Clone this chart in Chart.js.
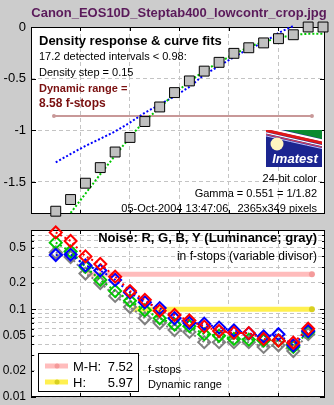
<!DOCTYPE html>
<html>
<head>
<meta charset="utf-8">
<script src="https://cdn.jsdelivr.net/npm/chart.js@4.4.1/dist/chart.umd.min.js"></script>
<style>
    body { margin: 0; background: #cccccc; }
    #wrap { position: relative; width: 334px; height: 405px; overflow: hidden; }
    #wrap canvas { position: absolute; left: 0; }
</style>
</head>
<body>
<div id="wrap">
    <canvas id="densityChart" width="334" height="222" style="top:0"></canvas>
    <canvas id="noiseChart" width="334" height="183" style="top:222px"></canvas>
</div>
<script>
// step positions along the wedge (density, 0.15 per step)
const stepX = [0.25, 0.40, 0.55, 0.70, 0.85, 1.00, 1.15, 1.30, 1.45, 1.60,
               1.75, 1.90, 2.05, 2.20, 2.35, 2.50, 2.65, 2.80, 2.95];

// measured density response (log10 pixel level)
const stepDensity = [-1.783, -1.670, -1.512, -1.361, -1.210, -1.069, -0.915, -0.774, -0.635, -0.522,
                     -0.427, -0.342, -0.255, -0.201, -0.154, -0.113, -0.075, 0.0, 0.0];
// second order fit (green) and first order fit (blue)
const fitCurve = [null, -1.80, -1.613, -1.425, -1.245, -1.066, -0.906, -0.783, -0.642, -0.528,
                  -0.425, -0.340, -0.264, -0.193, -0.142, -0.108, -0.075, -0.066, -0.066];
const linearFit = [-1.311, -1.229, -1.151, -1.082, -1.011, -0.925, -0.830, -0.752, -0.670, -0.580,
                   -0.462, -0.377, -0.292, -0.212, -0.151, -0.057, 0.01, null, null];
const rangeLevel = -0.861;
const rangeX = [0.232, 2.838];

// noise in f-stops per channel
const noiseR = [0.75, 0.60, 0.40, 0.328, 0.235, 0.161, 0.128, 0.096, 0.086, 0.0745,
                0.0634, 0.0565, 0.0538, 0.0534, 0.0459, 0.044, 0.0415, 0.060];
const noiseG = [0.574, 0.455, 0.304, 0.216, 0.161, 0.125, 0.0975, 0.079, 0.067, 0.0641,
                0.052, 0.0499, 0.0459, 0.0451, 0.044, 0.044, 0.0372, 0.0552];
const noiseB = [0.415, 0.42, 0.316, 0.277, 0.216, 0.155, 0.120, 0.103, 0.079, 0.0697,
                0.0683, 0.0618, 0.0573, 0.0531, 0.049, 0.052, 0.0388, 0.0565];
const noiseY = [0.443, 0.394, 0.255, 0.199, 0.142, 0.106, 0.079, 0.0697, 0.058, 0.0552,
                0.0422, 0.0422, 0.0422, 0.0422, 0.0372, 0.0388, 0.0334, 0.052];

// dynamic range thresholds
const levelMH = 0.25;
const levelMHX = [0.566, 2.838];
const levelH = 0.1;
const levelHX = [1.03, 2.838];
const rangeMH = 7.52;
const rangeH = 5.97;
const rangeTotal = 8.58;

const stepTicks = [0.5, 1, 1.5, 2, 2.5];
const densityTicks = [-1.5, -1, -0.5, 0];
const noiseTicks = [0.01, 0.02, 0.03, 0.04, 0.05, 0.06, 0.07, 0.08, 0.09,
                    0.1, 0.2, 0.3, 0.4, 0.5, 0.6, 0.7, 0.8];
const noiseLabels = [0.01, 0.02, 0.05, 0.1, 0.2, 0.5];
const noiseMajor = [0.01, 0.1];

const FONT = '"Liberation Sans", Arial, sans-serif';

function points(xs, ys) {
    return xs.map((x, i) => ({ x: x, y: ys[i] }))
             .filter(p => p.y !== null && p.y !== undefined);
}

function dottedLine(data, color) {
    return {
        data: data, showLine: true, borderColor: color, borderWidth: 2,
        borderDash: [2, 2], pointRadius: 0, pointHoverRadius: 0, clip: false
    };
}

function noiseSet(values, color) {
    return {
        data: points(stepX, values), showLine: true,
        borderColor: color, borderWidth: 2, borderDash: [2, 3],
        pointStyle: 'rectRot', pointRadius: 6, pointBorderWidth: 2,
        pointBorderColor: color, pointBackgroundColor: 'rgba(0,0,0,0)', clip: false
    };
}

function levelSet(xs, level, color, dotColor) {
    return {
        data: xs.map(x => ({ x: x, y: level })), showLine: true,
        borderColor: color, borderWidth: 5,
        pointRadius: [0, 3], pointBackgroundColor: dotColor, pointBorderWidth: 0
    };
}

// white plot box with black frame and inward tick marks
const framePlugin = {
    id: 'frame',
    beforeDraw(chart) {
        const a = chart.chartArea, ctx = chart.ctx;
        ctx.save();
        ctx.fillStyle = '#ffffff';
        ctx.fillRect(a.left, a.top, a.right - a.left, a.bottom - a.top);
        ctx.restore();
    },
    beforeDatasetsDraw(chart) {
        const a = chart.chartArea, ctx = chart.ctx, sx = chart.scales.x, sy = chart.scales.y;
        ctx.save();
        ctx.strokeStyle = '#000';
        ctx.lineWidth = 1;
        ctx.strokeRect(a.left + 0.5, a.top + 0.5, a.right - a.left - 1, a.bottom - a.top - 1);
        ctx.beginPath();
        sx.ticks.forEach(t => {
            const px = Math.round(sx.getPixelForValue(t.value)) + 0.5;
            ctx.moveTo(px, a.top); ctx.lineTo(px, a.top + 4);
            ctx.moveTo(px, a.bottom); ctx.lineTo(px, a.bottom - 4);
        });
        sy.ticks.forEach(t => {
            const py = Math.round(sy.getPixelForValue(t.value)) + 0.5;
            const len = t.minor ? 3 : 5;
            ctx.moveTo(a.left, py); ctx.lineTo(a.left + len, py);
            ctx.moveTo(a.right, py); ctx.lineTo(a.right - len, py);
        });
        ctx.stroke();
        ctx.restore();
    }
};

function drawLogo(ctx, x, y, w, h) {
    ctx.save();
    ctx.beginPath();
    ctx.rect(x, y, w, h);
    ctx.clip();
    ctx.fillStyle = '#1b2590';
    ctx.fillRect(x, y, w, h);
    // green corner
    ctx.fillStyle = '#0a8a30';
    ctx.beginPath();
    ctx.moveTo(x + 18, y);
    ctx.lineTo(x + w, y);
    ctx.lineTo(x + w, y + 9);
    ctx.quadraticCurveTo(x + 34, y + 4, x + 18, y);
    ctx.fill();
    // swoosh stripes
    const stripes = [[1, '#ffffff', 2.5], [3.5, '#e01818', 3], [6, '#ffffff', 1.2], [7.5, '#d04060', 1.2], [9, '#c0c0ff', 1]];
    stripes.forEach(s => {
        ctx.strokeStyle = s[1];
        ctx.lineWidth = s[2];
        ctx.beginPath();
        ctx.moveTo(x - 4, y - 4 + s[0]);
        ctx.quadraticCurveTo(x + 22, y + 2 + s[0], x + w + 2, y + 10 + s[0]);
        ctx.stroke();
    });
    // sun
    ctx.fillStyle = '#fff6c0';
    ctx.beginPath();
    ctx.arc(x + 11, y + 14, 6.5, 0, Math.PI * 2);
    ctx.fill();
    ctx.fillStyle = '#ffffff';
    ctx.font = 'italic bold 13px ' + FONT;
    ctx.textAlign = 'center';
    ctx.textBaseline = 'alphabetic';
    ctx.fillText('Imatest', x + w / 2 + 1, y + h - 4);
    ctx.restore();
}

const densityText = {
    id: 'densityText',
    afterDraw(chart) {
        const ctx = chart.ctx;
        ctx.save();
        ctx.textBaseline = 'alphabetic';
        ctx.textAlign = 'center';
        ctx.fillStyle = '#5a1a5a';
        ctx.font = 'bold 13px ' + FONT;
        ctx.fillText('Canon_EOS10D_Steptab400_lowcontr_crop.jpg', 179, 17);

        ctx.textAlign = 'left';
        ctx.fillStyle = '#000';
        ctx.font = 'bold 13px ' + FONT;
        ctx.fillText('Density response & curve fits', 39, 45);
        ctx.font = '11px ' + FONT;
        ctx.fillText('17.2 detected intervals < 0.98:', 39, 60);
        ctx.fillText('Density step = 0.15', 39, 76);
        ctx.fillStyle = '#7a1010';
        ctx.font = 'bold 11px ' + FONT;
        ctx.fillText('Dynamic range =', 39, 92);
        ctx.font = 'bold 12px ' + FONT;
        ctx.fillText(rangeTotal.toFixed(2) + ' f-stops', 39, 107);

        ctx.textAlign = 'right';
        ctx.fillStyle = '#000';
        ctx.font = '11px ' + FONT;
        ctx.fillText('24-bit color', 317, 182);
        ctx.fillText('Gamma = 0.551 = 1/1.82', 317, 197);
        ctx.fillText('05-Oct-2004 13:47:06   2365x349 pixels', 317, 212);
        ctx.restore();
        drawLogo(ctx, 266, 130, 56, 37);
    }
};

const noiseText = {
    id: 'noiseText',
    afterDraw(chart) {
        const ctx = chart.ctx;
        ctx.save();
        ctx.textBaseline = 'alphabetic';
        ctx.textAlign = 'right';
        ctx.fillStyle = '#000';
        ctx.font = 'bold 13px ' + FONT;
        ctx.fillText('Noise: R, G, B, Y (Luminance; gray)', 317, 20);
        ctx.font = '12px ' + FONT;
        ctx.fillText('in f-stops (variable divisor)', 317, 38);

        // legend box
        ctx.fillStyle = '#fff';
        ctx.fillRect(38, 131, 101, 39);
        ctx.strokeStyle = '#000';
        ctx.lineWidth = 1;
        ctx.strokeRect(38.5, 131.5, 100, 38);
        const rows = [[144, '#ffbcbc', '#f49a9a', 'M-H:', rangeMH], [160, '#fff050', '#d8d020', 'H:', rangeH]];
        rows.forEach(r => {
            ctx.strokeStyle = r[1];
            ctx.lineWidth = 5;
            ctx.beginPath();
            ctx.moveTo(45, r[0]);
            ctx.lineTo(68, r[0]);
            ctx.stroke();
            ctx.fillStyle = r[2];
            ctx.beginPath();
            ctx.arc(57, r[0], 2.5, 0, Math.PI * 2);
            ctx.fill();
            ctx.fillStyle = '#000';
            ctx.font = '13px ' + FONT;
            ctx.textAlign = 'left';
            ctx.fillText(r[3], 73, r[0] + 5);
            ctx.textAlign = 'right';
            ctx.fillText(r[4].toFixed(2), 133, r[0] + 5);
        });
        ctx.textAlign = 'left';
        ctx.font = '11px ' + FONT;
        ctx.fillText('f-stops', 148, 151);
        ctx.fillText('Dynamic range', 148, 166);
        ctx.restore();
    }
};

const gridStyle = { color: '#c4c4c4', drawTicks: false };
const borderStyle = { display: false, dash: [4, 3] };

function xScale() {
    return {
        type: 'linear', min: 0, max: 2.97,
        grid: gridStyle, border: borderStyle,
        ticks: { display: false },
        afterBuildTicks(scale) { scale.ticks = stepTicks.map(v => ({ value: v })); },
        afterFit(scale) { scale.height = 0; }
    };
}

new Chart(document.getElementById('densityChart'), {
    type: 'scatter',
    data: {
        datasets: [
            {
                data: points(stepX, stepDensity), pointStyle: 'rect', pointRadius: 7,
                pointBackgroundColor: '#c0c0c0', pointBorderColor: '#000', pointBorderWidth: 1, clip: false
            },
            dottedLine(points(stepX, fitCurve), '#00c800'),
            dottedLine(points(stepX, linearFit), '#0000ff'),
            {
                data: rangeX.map(x => ({ x: x, y: rangeLevel })), showLine: true,
                borderColor: '#c89898', borderWidth: 2, pointRadius: 2,
                pointBackgroundColor: '#c89898', pointBorderWidth: 0
            }
        ]
    },
    options: {
        responsive: false,
        animation: false,
        layout: { padding: { left: 0, right: 9, top: 27, bottom: 3 } },
        plugins: { legend: { display: false }, tooltip: { enabled: false } },
        scales: {
            x: xScale(),
            y: {
                type: 'linear', min: -1.81, max: 0,
                grid: gridStyle, border: borderStyle,
                ticks: {
                    color: '#000', padding: 5, font: { family: FONT, size: 13 },
                    callback: v => String(v)
                },
                afterBuildTicks(scale) { scale.ticks = densityTicks.map(v => ({ value: v })); },
                afterFit(scale) { scale.width = 31; scale.paddingTop = 0; scale.paddingBottom = 0; }
            }
        }
    },
    plugins: [framePlugin, densityText]
});

new Chart(document.getElementById('noiseChart'), {
    type: 'scatter',
    data: {
        datasets: [
            noiseSet(noiseR, '#ff0000'),
            noiseSet(noiseB, '#0000ff'),
            noiseSet(noiseG, '#00c800'),
            noiseSet(noiseY, '#808080'),
            levelSet(levelMHX, levelMH, '#ffbcbc', '#f49a9a'),
            levelSet(levelHX, levelH, '#fff050', '#d8d020')
        ]
    },
    options: {
        responsive: false,
        animation: false,
        layout: { padding: { left: 0, right: 9, top: 3, bottom: 6 } },
        plugins: { legend: { display: false }, tooltip: { enabled: false } },
        scales: {
            x: xScale(),
            y: {
                type: 'logarithmic', min: 0.01, max: 0.8,
                grid: gridStyle, border: borderStyle,
                ticks: {
                    color: '#000', padding: 5, autoSkip: false,
                    font: { family: FONT, size: 12 },
                    callback: v => noiseLabels.includes(v) ? String(v) : ''
                },
                afterBuildTicks(scale) {
                    scale.ticks = noiseTicks.map(v => ({ value: v, minor: !noiseMajor.includes(v) }));
                },
                afterFit(scale) { scale.width = 31; scale.paddingTop = 0; scale.paddingBottom = 0; }
            }
        }
    },
    plugins: [framePlugin, noiseText]
});
</script>
</body>
</html>
